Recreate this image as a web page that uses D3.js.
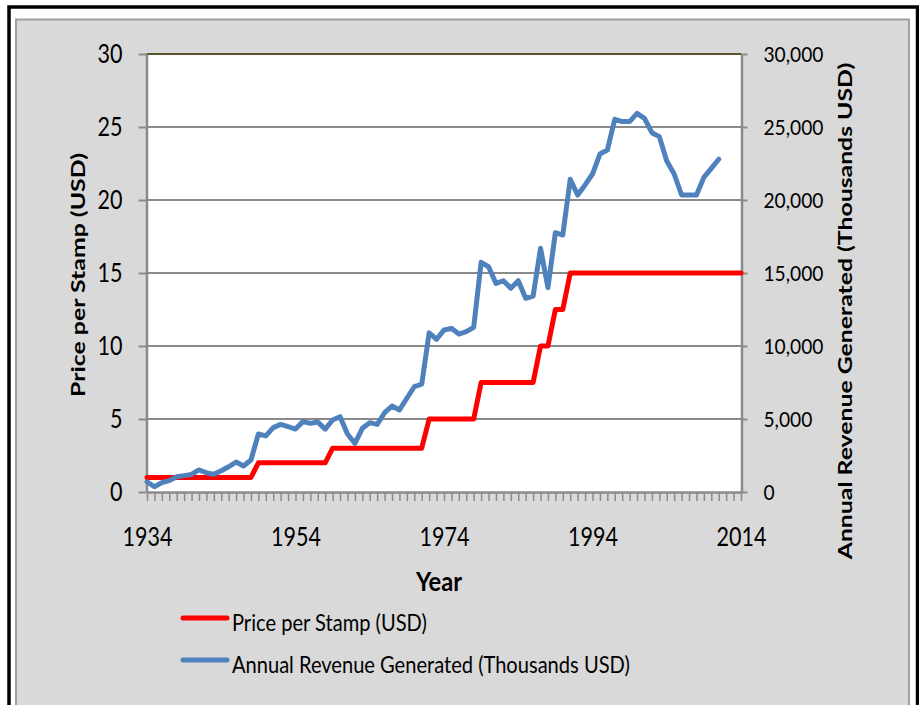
<!DOCTYPE html>
<html>
<head>
<meta charset="utf-8">
<script src="https://cdn.jsdelivr.net/npm/d3@7"></script>
<style>
  body { margin: 0; background: #fff; }
  svg { display: block; }
  text { font-family: Lato, "Liberation Sans", sans-serif; fill: #000; }
</style>
</head>
<body>
<svg id="chart" width="919" height="705"></svg>
<script>
// year range of the category axis and the labelled years
const firstYear = 1934, lastYear = 2014;
const labelYears = [1934, 1954, 1974, 1994, 2014];
const priceTicks = [0, 5, 10, 15, 20, 25, 30];
const revenueTicks = [0, 5000, 10000, 15000, 20000, 25000, 30000];

// price per stamp (USD), 1934 - 2014
const price = [
  1, 1, 1, 1, 1, 1, 1, 1, 1, 1, 1, 1, 1, 1, 1,        // 1934-1948
  2, 2, 2, 2, 2, 2, 2, 2, 2, 2,                       // 1949-1958
  3, 3, 3, 3, 3, 3, 3, 3, 3, 3, 3, 3, 3,              // 1959-1971
  5, 5, 5, 5, 5, 5, 5,                                // 1972-1978
  7.5, 7.5, 7.5, 7.5, 7.5, 7.5, 7.5, 7.5,             // 1979-1986
  10, 10, 12.5, 12.5,                                 // 1987-1990
  15, 15, 15, 15, 15, 15, 15, 15, 15, 15, 15, 15,     // 1991-2002
  15, 15, 15, 15, 15, 15, 15, 15, 15, 15, 15, 15      // 2003-2014
];

// annual revenue generated (thousands USD), 1934 - 2011
const revenue = [
  700, 360, 640, 780, 1050, 1120, 1200, 1510, 1320, 1210,              // 1934-1943
  1460, 1730, 2050, 1780, 2190, 3970, 3840, 4410, 4630, 4470,          // 1944-1953
  4310, 4820, 4700, 4790, 4310, 4930, 5160, 3970, 3330, 4360,          // 1954-1963
  4750, 4630, 5430, 5890, 5620, 6420, 7210, 7380, 10900, 10460,        // 1964-1973
  11100, 11210, 10820, 10980, 11280, 15730, 15430, 14290, 14470, 13950, // 1974-1983
  14470, 13270, 13420, 16690, 14000, 17760, 17600, 21420, 20340, 21030, // 1984-1993
  21780, 23150, 23420, 25530, 25370, 25370, 25930, 25590, 24610, 24340, // 1994-2003
  22670, 21780, 20340, 20340, 20340, 21550, 22170, 22790               // 2004-2011
];

const priceRows = price.map((v, i) => ({ year: firstYear + i, value: v }));
const revenueRows = revenue.map((v, i) => ({ year: firstYear + i, value: v }));

const svg = d3.select("#chart");
const plotLeft = 146.5, plotRight = 741.5, plotTop = 54, plotBottom = 492;

const x = d3.scaleLinear().domain([firstYear, lastYear]).range([147, 741]);
const yL = d3.scaleLinear().domain([0, 30]).range([plotBottom, plotTop]);
const yR = d3.scaleLinear().domain([0, 30000]).range([plotBottom, plotTop]);

/*
 * squeeze text horizontally so the widest label gets the wanted width
 */
function squeeze(sel, widest) {
  const w = d3.max(sel.nodes(), n => n.getComputedTextLength());
  const k = widest / w;
  sel.each(function() {
    const t = d3.select(this);
    const tx = +t.attr("x") || 0;
    t.attr("transform", `translate(${tx},0) scale(${k},1) translate(${-tx},0)`);
  });
}

// frame and background
svg.append("rect")
  .attr("x", 9).attr("y", 7).attr("width", 908.5).attr("height", 720)
  .attr("fill", "none").attr("stroke", "#000").attr("stroke-width", 3.5);
svg.append("rect")
  .attr("x", 16).attr("y", 19.5).attr("width", 893).attr("height", 700)
  .attr("fill", "#d9d9d9").attr("stroke", "#a0a0a0").attr("stroke-width", 2);
svg.append("rect")
  .attr("x", plotLeft).attr("y", plotTop)
  .attr("width", plotRight - plotLeft).attr("height", plotBottom - plotTop)
  .attr("fill", "#fff");

// gridlines
svg.append("g").selectAll("line")
  .data(priceTicks.filter(d => d > 0))
  .join("line")
    .attr("x1", plotLeft).attr("x2", plotRight)
    .attr("y1", d => yL(d)).attr("y2", d => yL(d))
    .attr("stroke", d => d === 30 ? "#57532f" : "#8a8a8a")
    .attr("stroke-width", 2);

// axes
function styleAxis(g, size) {
  g.attr("font-family", null).attr("font-size", size);
  g.select(".domain").attr("stroke", "#8a8a8a").attr("stroke-width", 2.5);
  g.selectAll(".tick line").attr("stroke", "#8a8a8a").attr("stroke-width", 2);
  g.selectAll(".tick text").attr("fill", "#000");
}

const gX = svg.append("g")
  .attr("transform", `translate(0,${plotBottom})`)
  .call(d3.axisBottom(x)
    .tickValues(d3.range(firstYear, lastYear + 1))
    .tickSize(9).tickSizeOuter(0).tickPadding(26)
    .tickFormat(d => labelYears.includes(d) ? d : ""));
styleAxis(gX, 27);
gX.selectAll(".tick line").attr("stroke-width", 1.5);
squeeze(gX.selectAll(".tick text"), 50);

const gL = svg.append("g")
  .attr("transform", `translate(${plotLeft},0)`)
  .call(d3.axisLeft(yL).tickValues(priceTicks).tickSize(8).tickSizeOuter(0).tickPadding(16));
styleAxis(gL, 27);
squeeze(gL.selectAll(".tick text"), 25);

const gR = svg.append("g")
  .attr("transform", `translate(${plotRight},0)`)
  .call(d3.axisRight(yR).tickValues(revenueTicks).tickFormat(d3.format(","))
    .tickSize(6).tickSizeOuter(0).tickPadding(16));
styleAxis(gR, 22);
squeeze(gR.selectAll(".tick text"), 60);

// series
const priceLine = d3.line().x(d => x(d.year)).y(d => yL(d.value));
const revenueLine = d3.line().x(d => x(d.year)).y(d => yR(d.value));

svg.append("path")
  .datum(priceRows)
  .attr("d", priceLine)
  .attr("fill", "none").attr("stroke", "#ff0000").attr("stroke-width", 5)
  .attr("stroke-linejoin", "round").attr("stroke-linecap", "round");

svg.append("path")
  .datum(revenueRows)
  .attr("d", revenueLine)
  .attr("fill", "none").attr("stroke", "#4f81bd").attr("stroke-width", 5)
  .attr("stroke-linejoin", "round").attr("stroke-linecap", "round");

// titles
const yearTitle = svg.append("text")
  .attr("x", 439).attr("y", 591)
  .attr("text-anchor", "middle").attr("font-size", 27).attr("font-weight", "bold")
  .text("Year");
squeeze(yearTitle, 46);

const leftTitle = svg.append("g")
  .attr("transform", "translate(85,275) rotate(-90)")
  .append("text")
    .attr("text-anchor", "middle").attr("font-size", 19).attr("font-weight", "bold")
    .text("Price per Stamp (USD)");
squeeze(leftTitle, 244);

const rightTitle = svg.append("g")
  .attr("transform", "translate(852,311) rotate(-90)")
  .append("text")
    .attr("text-anchor", "middle").attr("font-size", 19).attr("font-weight", "bold")
    .text("Annual Revenue Generated (Thousands USD)");
squeeze(rightTitle, 497);

// legend
const legendItems = [
  { label: "Price per Stamp (USD)", color: "#ff0000", y: 618, width: 195 },
  { label: "Annual Revenue Generated (Thousands USD)", color: "#4f81bd", y: 660, width: 398 }
];

legendItems.forEach(item => {
  svg.append("line")
    .attr("x1", 183).attr("x2", 227).attr("y1", item.y).attr("y2", item.y)
    .attr("stroke", item.color).attr("stroke-width", 5).attr("stroke-linecap", "round");
  const t = svg.append("text")
    .attr("x", 232).attr("y", item.y + 13)
    .attr("font-size", 23)
    .text(item.label);
  squeeze(t, item.width);
});
</script>
</body>
</html>
